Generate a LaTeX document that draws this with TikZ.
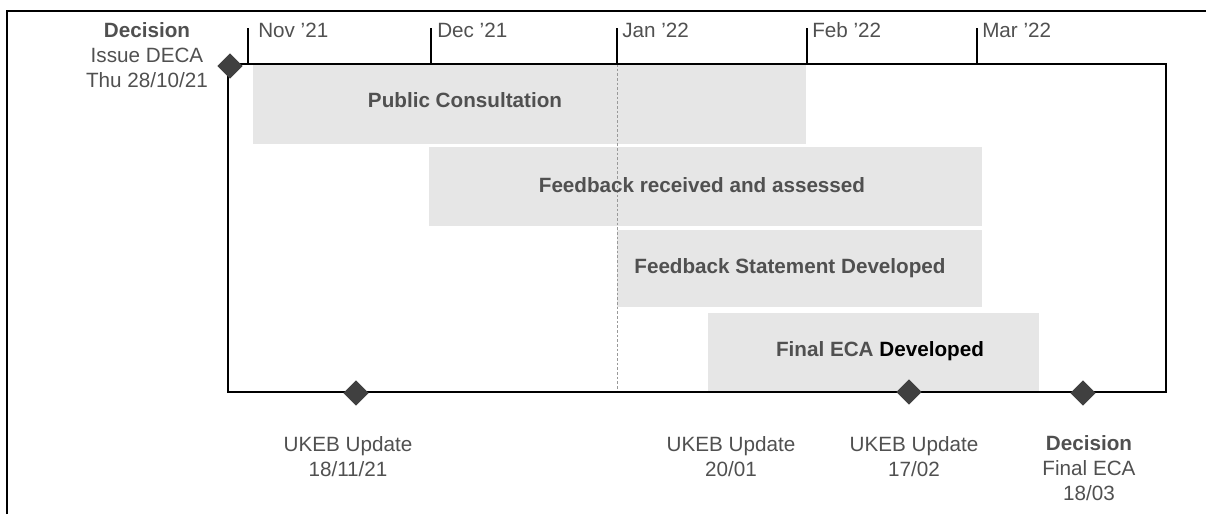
\documentclass[tikz,border=0pt]{standalone}
\usepackage{fontspec}
\setmainfont{Liberation Sans}
\usepackage{tikz}
\usetikzlibrary{shapes.geometric}

\definecolor{bargray}{RGB}{230,230,230}
\definecolor{txtgray}{RGB}{80,80,80}
\definecolor{mkgray}{RGB}{64,64,64}

\tikzset{
  lbl/.style={inner sep=0.75pt, align=center, text=txtgray, font=\fontsize{15.5}{18.75}\selectfont},
  barlbl/.style={lbl, font=\fontsize{15.5}{18.75}\selectfont\bfseries},
  milestone/.style={diamond, fill=mkgray, inner sep=0pt, minimum size=19pt},
  bar/.style={fill=bargray},
}

\begin{document}
\begin{tikzpicture}[x=0.75pt,y=0.75pt,yscale=-1,xscale=1]
\useasboundingbox (0,0) rectangle (1206,514);

%Straight Lines [outer frame]
\draw [line width=1.5]  (7,514) -- (7,11) -- (1206,11) ;

%Shape: Rectangle [bars]
\fill [bar] (253,65) rectangle (806,144) ;
\fill [bar] (429,147) rectangle (982,226) ;
\fill [bar] (617,230) rectangle (982,307) ;
\fill [bar] (708,313) rectangle (1039,391) ;

%Straight Lines [today]
\coordinate (janTop) at (617,64) ;
\coordinate (janBot) at (617,392) ;
\draw [color=gray!80, dash pattern={on 2pt off 1.5pt}]  (janTop) -- (janBot) ;

%Shape: Rectangle [frame]
\draw [line width=1.5]  (228,64) rectangle (1166,392) ;

%Straight Lines [month ticks]
\coordinate (nov) at (248,64) ;
\coordinate (dec) at (431,64) ;
\coordinate (feb) at (807,64) ;
\coordinate (mar) at (977,64) ;
\draw [line width=1.1]  (nov) -- ++(0,-36) ;
\draw [line width=1.1]  (dec) -- ++(0,-36) ;
\draw [line width=1.1]  (janTop) -- ++(0,-36) ;
\draw [line width=1.1]  (feb) -- ++(0,-36) ;
\draw [line width=1.1]  (mar) -- ++(0,-36) ;

% Text Node
\node (novLbl) [lbl, anchor=west] at (257,30) {Nov '21};
% Text Node
\node (decLbl) [lbl, anchor=west] at (436,30) {Dec '21};
% Text Node
\node (janLbl) [lbl, anchor=west] at (621,30) {Jan '22};
% Text Node
\node (febLbl) [lbl, anchor=west] at (811,30) {Feb '22};
% Text Node
\node (marLbl) [lbl, anchor=west] at (981,30) {Mar '22};

% Text Node
\node (pcText) [barlbl] at (465,100) {Public Consultation};
% Text Node
\node (frText) [barlbl] at (702,185) {Feedback received and assessed};
% Text Node
\node (fsText) [barlbl] at (790,268) {Feedback Statement Developed};
% Text Node
\node (feText) [barlbl] at (880,351) {Final ECA \textcolor{black}{Developed}};

%Shape: Diamond [milestones]
\node (mkDeca) [milestone] at (230,66) {};
\node (mkUkeb1) [milestone] at (356,393) {};
\node (mkUkeb3) [milestone] at (909,392) {};
\node (mkFinal) [milestone] at (1083,393) {};

% Text Node
\node (decaLbl) [lbl] at (147,55) {\textbf{Decision}\\Issue DECA\\Thu 28/10/21};
% Text Node
\node (ukeb1Lbl) [lbl] at (348,457) {UKEB Update\\18/11/21};
% Text Node
\node (ukeb2Lbl) [lbl] at (731,457) {UKEB Update\\20/01};
% Text Node
\node (ukeb3Lbl) [lbl] at (914,457) {UKEB Update\\17/02};
% Text Node
\node (finalLbl) [lbl] at (1089,468) {\textbf{Decision}\\Final ECA\\18/03};

\end{tikzpicture}
\end{document}
